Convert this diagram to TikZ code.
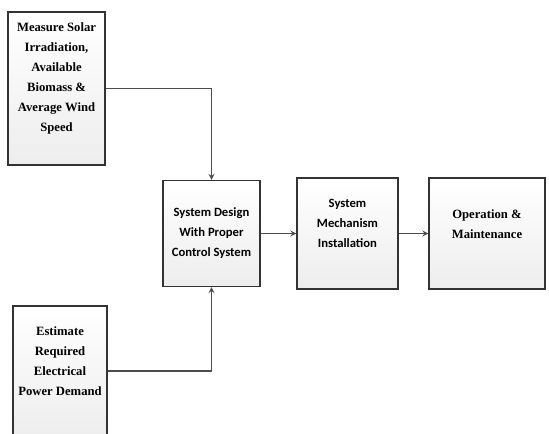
\documentclass[tikz,border=0pt]{standalone}
\usepackage{fontspec}
\setmainfont{Liberation Serif}
\newfontfamily\carlito{Carlito}
\usetikzlibrary{arrows, positioning}
\tikzstyle{block} = [rectangle, draw=black!80, line width=0.9pt, top color=white, bottom color=black!7, align=center, inner sep=2pt, font=\fontsize{9.5}{15}\selectfont\bfseries]
\tikzstyle{sansblock} = [block, font=\fontsize{9.5}{15}\selectfont\carlito\bfseries]
\tikzstyle{arrow} = [line width=1pt, draw=black!70, ->, >=stealth]

\begin{document}
\begin{tikzpicture}[node distance=102pt, on grid]
        \useasboundingbox (-158.6pt,175.1pt) rectangle (253.15pt,-149.65pt);
        \node[sansblock, minimum width=72.75pt, minimum height=79.5pt] (design) {System Design\\With Proper\\Control System};
        \node[sansblock, right=of design, minimum width=75.75pt, minimum height=83.25pt, text depth=15.5pt] (install) {System\\Mechanism\\Installation};
        \node[block, right=104.65pt of install, minimum width=87pt, minimum height=83.25pt, text depth=14.5pt] (operate) {Operation \&\\Maintenance};
        \node[block, above left=108.7pt and 116.2pt of design, minimum width=72.75pt, minimum height=114.75pt, text depth=17pt] (measure) {Measure Solar\\Irradiation,\\Available\\Biomass \&\\Average Wind\\Speed};
        \node[block, below left=103.15pt and 113.6pt of design, minimum width=70.5pt, minimum height=97.5pt, text depth=15.5pt] (estimate) {Estimate\\Required\\Electrical\\Power Demand};

        \draw[arrow] (measure.east) -| (design.north);
        \draw[arrow] (estimate.east) -| (design.south);
        \draw[arrow] (design) -- (install);
        \draw[arrow] (install) -- (operate);
    \end{tikzpicture}
\end{document}
